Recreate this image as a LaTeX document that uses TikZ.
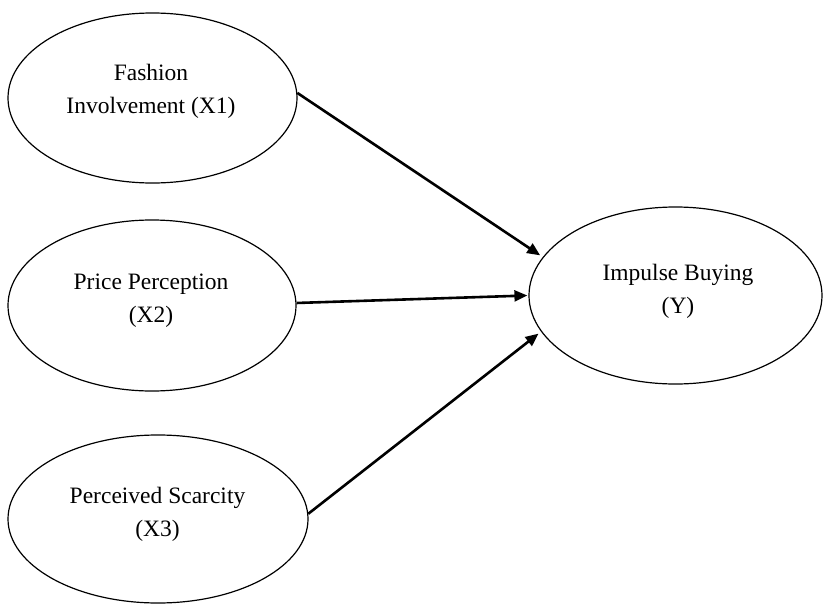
\documentclass[tikz,border=0pt]{standalone}
\usepackage{fontspec}
\setmainfont{Liberation Serif}
\usetikzlibrary{shapes.geometric,arrows.meta}
\tikzset{
  construct/.style={ellipse, draw=black, line width=1.2pt, inner sep=0pt},
  lbl/.style={align=center, font=\fontsize{23.5}{33}\selectfont, inner sep=0pt},
  path arrow/.style={line width=2.6pt, -{Triangle[length=13pt,width=11pt]}}
}
\begin{document}
\begin{tikzpicture}[x=1pt,y=-1pt]
\useasboundingbox (0,0) rectangle (823,605);
\node[construct, minimum width=289pt, minimum height=170pt] (x1) at (152.5,98) {};
\node[construct, minimum width=288pt, minimum height=171pt] (x2) at (152,305.5) {};
\node[construct, minimum width=300pt, minimum height=168pt] (x3) at (158,519) {};
\node[construct, minimum width=293pt, minimum height=177pt] (y) at (675.5,295.5) {};
\node[lbl] (t1) at (151,91.5) {Fashion\\Involvement (X1)};
\node[lbl] (t2) at (151,301) {Price Perception\\(X2)};
\node[lbl] (t3) at (157.5,514) {Perceived Scarcity\\(X3)};
\node[lbl] (ty) at (678,291) {Impulse Buying\\(Y)};
\draw[path arrow] (x1.2) -- ([shift={(-4pt,0pt)}]y.163);
\draw[path arrow] (x2.1) -- ([shift={(-1pt,0pt)}]y.180);
\draw[path arrow] (x3.2) -- ([shift={(-4pt,0pt)}]y.196);
\end{tikzpicture}
\end{document}
